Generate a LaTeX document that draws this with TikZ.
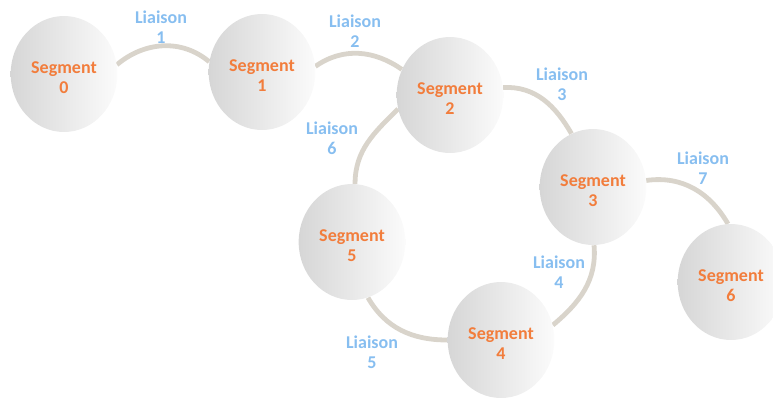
\documentclass[tikz,border=0pt]{standalone}
\usepackage{fontspec}
\setmainfont{Carlito}
\usetikzlibrary{shapes.geometric,backgrounds}

\definecolor{segorange}{RGB}{242,125,60}
\definecolor{liaisonblue}{RGB}{135,190,240}
\definecolor{segleft}{RGB}{214,214,214}
\definecolor{segright}{RGB}{251,251,251}
\definecolor{linkgray}{RGB}{217,212,203}

\begin{document}
\begin{tikzpicture}[
	x=0.75pt, y=-0.75pt,
	segment/.style={ellipse, minimum width=80pt, minimum height=87pt, inner sep=0pt,
		left color=segleft, right color=segright, draw=none, text height=28.5pt, text depth=0pt,
		text=segorange, align=center, font=\fontsize{13.5}{15}\selectfont\bfseries},
	liaison/.style={text=liaisonblue, align=center, font=\fontsize{13.5}{15}\selectfont\bfseries},
	link/.style={draw=linkgray, line width=3.6pt}
	]
	
	\useasboundingbox (0,0) rectangle (773,397);
	
	%-----------------------
	% Segments
	%-----------------------
	\node[segment] (S0) at ( 64, 74) {Segment\\0};
	\node[segment] (S1) at (262, 72) {Segment\\1};
	\node[segment] (S2) at (450, 95) {Segment\\2};
	\node[segment] (S3) at (593,187) {Segment\\3};
	\node[segment] (S4) at (501,340) {Segment\\4};
	\node[segment] (S5) at (352,242) {Segment\\5};
	\node[segment] (S6) at (731,282) {Segment\\6};
	
	%-----------------------
	% Liaisons (behind the segments)
	%-----------------------
	\begin{scope}[on background layer]
	\draw[link] (S0.10)  to[out=40, in=140]  (S1.169);
	\draw[link] (S1.6)   to[out=35, in=145]  (S2.152);
	\draw[link] (S2.8)   to[out=3, in=120]   (S3.112);
	\draw[link] (S3.7)   to[out=8, in=120]   (S6.93);
	\draw[link] (S3.271) to[out=-85, in=40]  (S4.16);
	\draw[link] (S2.195) to[out=225, in=90]  (S5.87);
	\draw[link] (S5.286) to[out=-60, in=180] (S4.180);
	\end{scope}
	
	%-----------------------
	% Liaison labels
	%-----------------------
	\node[liaison] (L1) at (161, 27) {Liaison\\1};
	\node[liaison] (L2) at (355, 31) {Liaison\\2};
	\node[liaison] (L3) at (562, 84) {Liaison\\3};
	\node[liaison] (L4) at (559,272) {Liaison\\4};
	\node[liaison] (L5) at (372,352) {Liaison\\5};
	\node[liaison] (L6) at (332,138) {Liaison\\6};
	\node[liaison] (L7) at (703,168) {Liaison\\7};
	
\end{tikzpicture}
\end{document}
